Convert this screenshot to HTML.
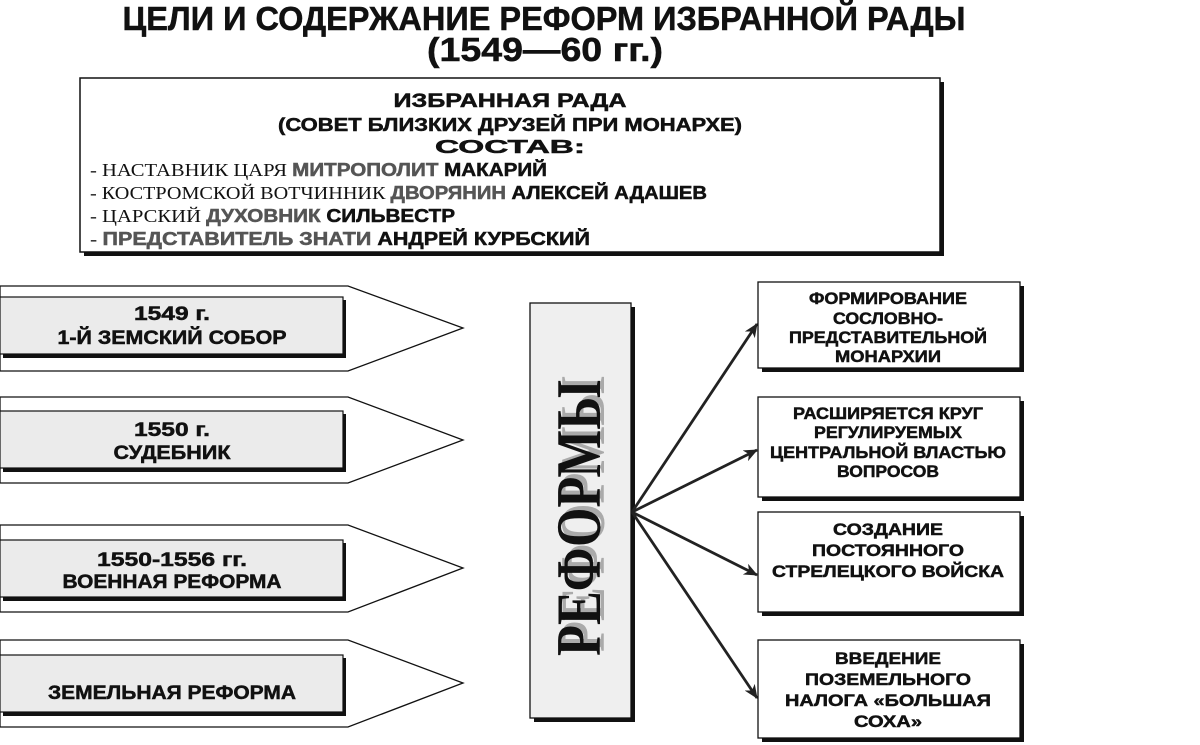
<!DOCTYPE html>
<html><head><meta charset="utf-8"><style>
html,body{margin:0;padding:0;background:#fff;}
svg{display:block;}
.b{font-family:"Liberation Sans","DejaVu Sans",sans-serif;font-weight:bold;fill:#111;stroke:#111;stroke-width:0.5;}
.s{font-family:"Liberation Serif",serif;fill:#111;stroke:none;font-weight:normal;}
.g{fill:#555;stroke:#555;}
</style></head><body>
<svg width="1200" height="745" viewBox="0 0 1200 745" xmlns="http://www.w3.org/2000/svg">
<defs>
<marker id="ah" markerWidth="14" markerHeight="12" refX="13" refY="6" orient="auto" markerUnits="userSpaceOnUse">
<path d="M0,0 L14,6 L0,12 L4,6 Z" fill="#222"/>
</marker>
</defs>
<!-- title -->
<text class="b" x="544" y="30" font-size="33" text-anchor="middle" textLength="843" lengthAdjust="spacingAndGlyphs">ЦЕЛИ И СОДЕРЖАНИЕ РЕФОРМ ИЗБРАННОЙ РАДЫ</text>
<text class="b" x="545" y="61" font-size="33" text-anchor="middle" textLength="236" lengthAdjust="spacingAndGlyphs">(1549—60 гг.)</text>

<!-- top box -->
<rect x="84" y="82" width="860" height="174" fill="#111"/>
<rect x="80" y="78" width="860" height="174" fill="#fff" stroke="#111" stroke-width="1.5"/>
<text class="b" x="510" y="107" font-size="19" text-anchor="middle" textLength="233" lengthAdjust="spacingAndGlyphs">ИЗБРАННАЯ РАДА</text>
<text class="b" x="510" y="131" font-size="18" text-anchor="middle" textLength="464" lengthAdjust="spacingAndGlyphs">(СОВЕТ БЛИЗКИХ ДРУЗЕЙ ПРИ МОНАРХЕ)</text>
<text class="b" x="510" y="153" font-size="18" text-anchor="middle" textLength="150" lengthAdjust="spacingAndGlyphs">СОСТАВ:</text>
<text x="90" y="176" font-size="18" textLength="457" lengthAdjust="spacingAndGlyphs"><tspan class="s">- НАСТАВНИК ЦАРЯ </tspan><tspan class="b g">МИТРОПОЛИТ </tspan><tspan class="b">МАКАРИЙ</tspan></text>
<text x="90" y="199" font-size="18" textLength="617" lengthAdjust="spacingAndGlyphs"><tspan class="s">- КОСТРОМСКОЙ ВОТЧИННИК </tspan><tspan class="b g">ДВОРЯНИН </tspan><tspan class="b">АЛЕКСЕЙ АДАШЕВ</tspan></text>
<text x="90" y="222" font-size="18" textLength="365" lengthAdjust="spacingAndGlyphs"><tspan class="s">- ЦАРСКИЙ </tspan><tspan class="b g">ДУХОВНИК </tspan><tspan class="b">СИЛЬВЕСТР</tspan></text>
<text x="90" y="245" font-size="18" textLength="500" lengthAdjust="spacingAndGlyphs"><tspan class="s">- </tspan><tspan class="b g">ПРЕДСТАВИТЕЛЬ ЗНАТИ </tspan><tspan class="b">АНДРЕЙ КУРБСКИЙ</tspan></text>

<!-- left arrows -->
<g stroke="#111" stroke-width="1.3">
<polygon points="0,286 348,286 463,328 348,371 0,371" fill="#fff"/>
<polygon points="0,397 348,397 463,440 348,483 0,483" fill="#fff"/>
<polygon points="0,525 348,525 463,568 348,612 0,612" fill="#fff"/>
<polygon points="0,640 348,640 463,683 348,727 0,727" fill="#fff"/>
</g>
<g>
<rect x="3" y="300" width="343" height="58" fill="#111"/>
<rect x="0" y="297" width="343" height="57" fill="#ebebeb" stroke="#111" stroke-width="1.2"/>
<rect x="3" y="414" width="343" height="58" fill="#111"/>
<rect x="0" y="411" width="343" height="57" fill="#ebebeb" stroke="#111" stroke-width="1.2"/>
<rect x="3" y="543" width="343" height="58" fill="#111"/>
<rect x="0" y="540" width="343" height="57" fill="#ebebeb" stroke="#111" stroke-width="1.2"/>
<rect x="3" y="658" width="343" height="58" fill="#111"/>
<rect x="0" y="655" width="343" height="57" fill="#ebebeb" stroke="#111" stroke-width="1.2"/>
</g>
<text class="b" x="172" y="320" font-size="19" text-anchor="middle" textLength="76" lengthAdjust="spacingAndGlyphs">1549 г.</text>
<text class="b" x="172" y="344" font-size="19" text-anchor="middle" textLength="229" lengthAdjust="spacingAndGlyphs">1-Й ЗЕМСКИЙ СОБОР</text>
<text class="b" x="172" y="436" font-size="19" text-anchor="middle" textLength="76" lengthAdjust="spacingAndGlyphs">1550 г.</text>
<text class="b" x="172" y="459" font-size="19" text-anchor="middle" textLength="117" lengthAdjust="spacingAndGlyphs">СУДЕБНИК</text>
<text class="b" x="172" y="566" font-size="19" text-anchor="middle" textLength="150" lengthAdjust="spacingAndGlyphs">1550-1556 гг.</text>
<text class="b" x="172" y="588" font-size="19" text-anchor="middle" textLength="219" lengthAdjust="spacingAndGlyphs">ВОЕННАЯ РЕФОРМА</text>
<text class="b" x="172" y="699" font-size="19" text-anchor="middle" textLength="248" lengthAdjust="spacingAndGlyphs">ЗЕМЕЛЬНАЯ РЕФОРМА</text>

<!-- central box -->
<rect x="534" y="307" width="101" height="415" fill="#111"/>
<rect x="530" y="303" width="101" height="415" fill="#efefef" stroke="#111" stroke-width="1.3"/>
<g transform="translate(580,518) rotate(-90)">
<text x="4" y="24" font-family="Liberation Serif,serif" font-weight="bold" font-size="64" fill="#aaa" text-anchor="middle" textLength="276" lengthAdjust="spacingAndGlyphs">РЕФОРМЫ</text>
<text x="0" y="20" font-family="Liberation Serif,serif" font-weight="bold" font-size="64" fill="#111" text-anchor="middle" textLength="276" lengthAdjust="spacingAndGlyphs">РЕФОРМЫ</text>
</g>

<!-- connectors -->
<g stroke="#222" stroke-width="2.8" fill="none" marker-end="url(#ah)">
<line x1="632" y1="512" x2="757" y2="324"/>
<line x1="632" y1="512" x2="757" y2="450"/>
<line x1="632" y1="512" x2="757" y2="575"/>
<line x1="632" y1="512" x2="757" y2="698"/>
</g>

<!-- right boxes -->
<rect x="762" y="286" width="262" height="86" fill="#111"/>
<rect x="758" y="282" width="262" height="86" fill="#fff" stroke="#111" stroke-width="1.3"/>
<rect x="762" y="401" width="262" height="100" fill="#111"/>
<rect x="758" y="397" width="262" height="100" fill="#fff" stroke="#111" stroke-width="1.3"/>
<rect x="762" y="516" width="262" height="100" fill="#111"/>
<rect x="758" y="512" width="262" height="100" fill="#fff" stroke="#111" stroke-width="1.3"/>
<rect x="762" y="644" width="262" height="98" fill="#111"/>
<rect x="758" y="640" width="262" height="98" fill="#fff" stroke="#111" stroke-width="1.3"/>

<g class="b" font-size="17" text-anchor="middle">
<text x="888" y="304" textLength="158" lengthAdjust="spacingAndGlyphs">ФОРМИРОВАНИЕ</text>
<text x="888" y="324" textLength="110" lengthAdjust="spacingAndGlyphs">СОСЛОВНО-</text>
<text x="888" y="343" textLength="198" lengthAdjust="spacingAndGlyphs">ПРЕДСТАВИТЕЛЬНОЙ</text>
<text x="888" y="362" textLength="106" lengthAdjust="spacingAndGlyphs">МОНАРХИИ</text>

<text x="888" y="419" textLength="190" lengthAdjust="spacingAndGlyphs">РАСШИРЯЕТСЯ КРУГ</text>
<text x="888" y="438" textLength="148" lengthAdjust="spacingAndGlyphs">РЕГУЛИРУЕМЫХ</text>
<text x="888" y="458" textLength="236" lengthAdjust="spacingAndGlyphs">ЦЕНТРАЛЬНОЙ ВЛАСТЬЮ</text>
<text x="888" y="477" textLength="102" lengthAdjust="spacingAndGlyphs">ВОПРОСОВ</text>

<text x="888" y="535" textLength="110" lengthAdjust="spacingAndGlyphs">СОЗДАНИЕ</text>
<text x="888" y="556" textLength="152" lengthAdjust="spacingAndGlyphs">ПОСТОЯННОГО</text>
<text x="888" y="577" textLength="232" lengthAdjust="spacingAndGlyphs">СТРЕЛЕЦКОГО ВОЙСКА</text>

<text x="888" y="664" textLength="106" lengthAdjust="spacingAndGlyphs">ВВЕДЕНИЕ</text>
<text x="888" y="685" textLength="166" lengthAdjust="spacingAndGlyphs">ПОЗЕМЕЛЬНОГО</text>
<text x="888" y="706" textLength="206" lengthAdjust="spacingAndGlyphs">НАЛОГА «БОЛЬШАЯ</text>
<text x="888" y="727" textLength="68" lengthAdjust="spacingAndGlyphs">СОХА»</text>
</g>
</svg>
</body></html>
